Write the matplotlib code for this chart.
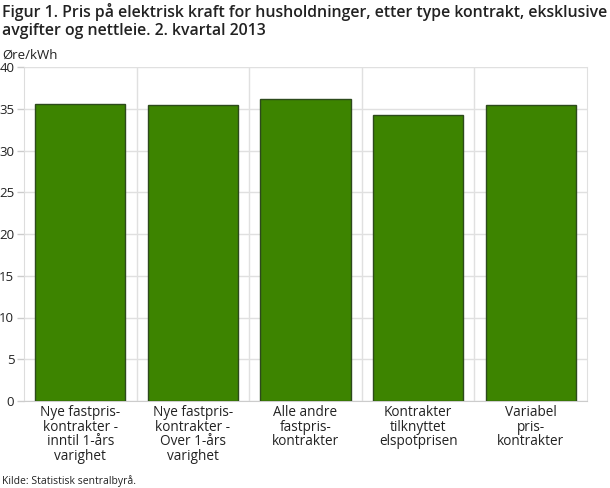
import matplotlib.pyplot as plt

categories = [
    "Nye fastpris-\nkontrakter -\ninntil 1-års\nvarighet",
    "Nye fastpris-\nkontrakter -\nOver 1-års\nvarighet",
    "Alle andre\nfastpris-\nkontrakter",
    "Kontrakter\ntilknyttet\nelspotprisen",
    "Variabel\npris-\nkontrakter",
]
values = [35.6, 35.5, 36.2, 34.2, 35.4]
yticks = [0, 5, 10, 15, 20, 25, 30, 35, 40]

plt.rcParams['font.family'] = ['Open Sans', 'DejaVu Sans']

fig = plt.figure(figsize=(6.1, 4.88), dpi=100)
ax = fig.add_axes([24 / 610, 1 - 401 / 488, 563 / 610, 334 / 488])

x = range(len(categories))
ax.bar(x, values, width=0.8, color="#3d8400", edgecolor="#2d4a1c", linewidth=1, zorder=3)

ax.set_xlim(-0.5, len(categories) - 0.5)
ax.set_ylim(0, 40)
ax.set_yticks(yticks)
ax.set_yticklabels([str(t) for t in yticks], fontsize=9.5, color="#222222")
ax.set_xticks(list(x))
ax.set_xticklabels(categories, fontsize=9.8, color="#222222", linespacing=0.95)

# vertical grid between categories
ax.set_xticks([i + 0.5 for i in range(len(categories) - 1)], minor=True)
ax.grid(axis="x", which="minor", color="#e0e0e0", linewidth=1, zorder=0)
ax.grid(axis="y", which="major", color="#e0e0e0", linewidth=1, zorder=0)
ax.tick_params(axis="x", which="both", length=0, pad=3)
ax.tick_params(axis="y", length=5, color="#cccccc", width=1, pad=2)

ax.spines["top"].set_visible(False)
ax.spines["left"].set_color("#dddddd")
ax.spines["bottom"].set_color("#cccccc")
ax.spines["right"].set_color("#e0e0e0")

fig.text(2 / 610, 1 - 3 / 488,
         "Figur 1. Pris på elektrisk kraft for husholdninger, etter type kontrakt, eksklusive\navgifter og nettleie. 2. kvartal 2013",
         fontsize=11.4, fontweight="semibold", color="#222222", va="top", ha="left", linespacing=1.15)
fig.text(2 / 610, 1 - 55 / 488, "Øre/kWh", fontsize=9.5, color="#222222", va="center", ha="left")
fig.text(2 / 610, 1 - 481 / 488, "Kilde: Statistisk sentralbyrå.", fontsize=7.5, color="#222222", va="center", ha="left")

fig.savefig("out.png", dpi=100)
